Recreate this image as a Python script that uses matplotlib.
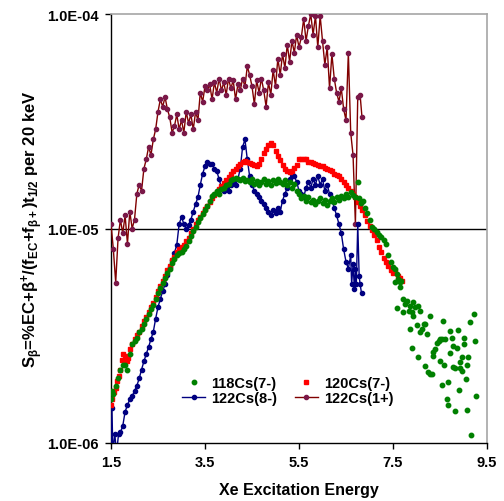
import matplotlib
matplotlib.use("Agg")
import matplotlib.pyplot as plt
from matplotlib.ticker import FixedLocator, FuncFormatter, NullLocator
from matplotlib.lines import Line2D

plt.rcParams['font.family'] = ['Liberation Sans', 'DejaVu Sans']
plt.rcParams['mathtext.fontset'] = 'custom'
plt.rcParams['mathtext.rm'] = 'Liberation Sans:bold'
plt.rcParams['mathtext.bf'] = 'Liberation Sans:bold'
plt.rcParams['mathtext.it'] = 'Liberation Sans:bold'
plt.rcParams['mathtext.default'] = 'bf'

# ---------------- data ----------------
# 122Cs(1+)
e_1p = [1.50, 1.55, 1.60, 1.65, 1.70, 1.75, 1.80, 1.85, 1.90, 1.95, 2.00, 2.05, 2.10, 2.15,
        2.20, 2.25, 2.30, 2.35, 2.40, 2.45, 2.50, 2.55, 2.60, 2.65, 2.70, 2.75, 2.80, 2.85,
        2.90, 2.95, 3.00, 3.05, 3.10, 3.15, 3.20, 3.25, 3.30, 3.35, 3.40, 3.45, 3.50, 3.55,
        3.60, 3.65, 3.70, 3.75, 3.80, 3.85, 3.90, 3.95, 4.00, 4.05, 4.10, 4.15, 4.20, 4.25,
        4.30, 4.35, 4.40, 4.45, 4.50, 4.55, 4.60, 4.65, 4.70, 4.75, 4.80, 4.85, 4.90, 4.95,
        5.00, 5.05, 5.10, 5.15, 5.20, 5.25, 5.30, 5.35, 5.40, 5.45, 5.50, 5.55, 5.60, 5.65,
        5.70, 5.75, 5.80, 5.85, 5.90, 5.95, 6.00, 6.05, 6.10, 6.15, 6.20, 6.25, 6.30, 6.35,
        6.40, 6.45, 6.50, 6.55, 6.60, 6.65, 6.70, 6.75, 6.80, 6.84]
s_1p = [1.05e-5, 8.0e-6, 5.6e-6, 9.0e-6, 1.1e-5, 9.5e-6, 1.15e-5, 8.5e-6, 1.2e-5, 1.0e-5,
        1.1e-5, 1.45e-5, 1.6e-5, 1.5e-5, 1.9e-5, 2.1e-5, 2.4e-5, 2.2e-5, 2.6e-5, 2.9e-5,
        3.5e-5, 4.0e-5, 3.7e-5, 4.1e-5, 3.6e-5, 3.3e-5, 2.8e-5, 3.0e-5, 3.4e-5, 2.9e-5,
        3.2e-5, 2.8e-5, 3.5e-5, 3.1e-5, 3.4e-5, 2.9e-5, 3.5e-5, 3.2e-5, 4.3e-5, 3.9e-5,
        4.6e-5, 4.4e-5, 4.7e-5, 4.0e-5, 4.8e-5, 4.3e-5, 5.0e-5, 4.4e-5, 4.8e-5, 4.2e-5,
        5.0e-5, 4.5e-5, 4.9e-5, 4.0e-5, 4.7e-5, 4.4e-5, 5.0e-5, 4.6e-5, 5.7e-5, 5.2e-5,
        4.6e-5, 3.8e-5, 4.9e-5, 4.3e-5, 5.0e-5, 4.4e-5, 3.7e-5, 4.8e-5, 4.2e-5, 5.5e-5,
        4.6e-5, 6.2e-5, 5.2e-5, 6.5e-5, 5.6e-5, 7.2e-5, 6.0e-5, 7.5e-5, 6.6e-5, 8.0e-5,
        7.0e-5, 7.8e-5, 9.5e-5, 7.5e-5, 8.8e-5, 1.0e-4, 8.0e-5, 9.8e-5, 7.0e-5, 9.8e-5,
        7.5e-5, 5.8e-5, 7.0e-5, 4.5e-5, 6.5e-5, 5.0e-5, 4.3e-5, 3.9e-5, 4.5e-5, 3.6e-5,
        3.2e-5, 6.6e-5, 2.8e-5, 2.2e-5, 1.05e-5, 4.1e-5, 4.2e-5, 3.3e-5]

# 122Cs(8-)
e_8m = [1.50, 1.52, 1.54, 1.58, 1.62, 1.66, 1.70, 1.75, 1.80, 1.85, 1.90, 1.95, 2.00, 2.05,
        2.10, 2.15, 2.20, 2.25, 2.30, 2.35, 2.40, 2.45, 2.50, 2.55, 2.60, 2.65, 2.70, 2.75,
        2.80, 2.85, 2.90, 2.95, 3.00, 3.05, 3.10, 3.15, 3.20, 3.25, 3.30, 3.35, 3.40, 3.45,
        3.50, 3.55, 3.60, 3.65, 3.70, 3.75, 3.80, 3.85, 3.90, 3.95, 4.00, 4.05, 4.10, 4.15,
        4.20, 4.25, 4.30, 4.35, 4.40, 4.45, 4.50, 4.55, 4.60, 4.65, 4.70, 4.75, 4.80, 4.85,
        4.90, 4.95, 5.00, 5.05, 5.10, 5.15, 5.20, 5.25, 5.30, 5.35, 5.40, 5.45, 5.50, 5.55,
        5.60, 5.65, 5.70, 5.75, 5.80, 5.85, 5.90, 5.95, 6.00, 6.05, 6.10, 6.15, 6.20, 6.25,
        6.30, 6.35, 6.40, 6.45, 6.50, 6.55, 6.60, 6.62, 6.65, 6.68, 6.70, 6.72, 6.75, 6.78,
        6.80, 6.83]
s_8m = [9.0e-7, 1.45e-6, 9.0e-7, 1.1e-6, 9.0e-7, 1.1e-6, 1.12e-6, 1.2e-6, 1.4e-6, 1.5e-6,
        1.6e-6, 1.65e-6, 1.75e-6, 1.85e-6, 2.0e-6, 2.2e-6, 2.4e-6, 2.6e-6, 2.8e-6, 3.05e-6,
        3.3e-6, 3.8e-6, 4.3e-6, 4.7e-6, 5.1e-6, 5.5e-6, 6.1e-6, 6.6e-6, 7.1e-6, 7.7e-6,
        8.4e-6, 1.05e-5, 1.13e-5, 1.05e-5, 1.0e-5, 1.04e-5, 1.1e-5, 1.2e-5, 1.3e-5, 1.4e-5,
        1.6e-5, 1.8e-5, 1.95e-5, 2.05e-5, 2.0e-5, 2.0e-5, 1.9e-5, 1.85e-5, 1.7e-5, 1.55e-5,
        1.5e-5, 1.55e-5, 1.5e-5, 1.6e-5, 1.65e-5, 1.6e-5, 1.7e-5, 1.9e-5, 2.4e-5, 2.6e-5,
        2.1e-5, 1.75e-5, 1.6e-5, 1.5e-5, 1.45e-5, 1.4e-5, 1.35e-5, 1.3e-5, 1.25e-5, 1.2e-5,
        1.15e-5, 1.22e-5, 1.18e-5, 1.25e-5, 1.2e-5, 1.35e-5, 1.45e-5, 1.55e-5, 1.7e-5, 1.8e-5,
        1.75e-5, 1.65e-5, 1.5e-5, 1.45e-5, 1.4e-5, 1.55e-5, 1.65e-5, 1.55e-5, 1.7e-5, 1.6e-5,
        1.75e-5, 1.6e-5, 1.7e-5, 1.5e-5, 1.6e-5, 1.45e-5, 1.35e-5, 1.25e-5, 1.15e-5, 1.05e-5,
        9.5e-6, 8.0e-6, 7.0e-6, 6.5e-6, 7.5e-6, 5.5e-6, 6.8e-6, 5.2e-6, 6.5e-6, 5.5e-6,
        1.05e-5, 6.0e-6, 5.5e-6, 5.0e-6]

# 120Cs(7-)
e_120 = [1.50, 1.53, 1.56, 1.60, 1.63, 1.66, 1.70, 1.73, 1.76, 1.80, 1.83, 1.86, 1.90, 1.95,
         2.00, 2.05, 2.10, 2.15, 2.20, 2.25, 2.30, 2.35, 2.40, 2.45, 2.50, 2.55, 2.60, 2.65,
         2.70, 2.75, 2.80, 2.85, 2.90, 2.95, 3.00, 3.05, 3.10, 3.15, 3.20, 3.25, 3.30, 3.35,
         3.40, 3.45, 3.50, 3.55, 3.60, 3.65, 3.70, 3.75, 3.80, 3.85, 3.90, 3.95, 4.00, 4.05,
         4.10, 4.15, 4.20, 4.25, 4.30, 4.35, 4.40, 4.45, 4.50, 4.55, 4.60, 4.65, 4.70, 4.75,
         4.80, 4.85, 4.90, 4.95, 5.00, 5.05, 5.10, 5.15, 5.20, 5.25, 5.30, 5.35, 5.40, 5.45,
         5.50, 5.55, 5.60, 5.65, 5.70, 5.75, 5.80, 5.85, 5.90, 5.95, 6.00, 6.05, 6.10, 6.15,
         6.20, 6.25, 6.30, 6.35, 6.40, 6.45, 6.50, 6.55, 6.60, 6.65, 6.70, 6.75, 6.80, 6.85,
         6.90, 6.95, 7.00, 7.05, 7.10, 7.15, 7.20, 7.25, 7.30, 7.35, 7.40, 7.45, 7.50, 7.55,
         7.60, 7.65, 7.70]
s_120 = [1.5e-6, 1.6e-6, 1.72e-6, 1.8e-6, 1.95e-6, 2.05e-6, 2.2e-6, 2.45e-6, 2.6e-6, 2.55e-6,
         2.4e-6, 2.5e-6, 2.75e-6, 2.9e-6, 3.05e-6, 3.2e-6, 3.3e-6, 3.5e-6, 3.7e-6, 3.85e-6,
         4.1e-6, 4.3e-6, 4.5e-6, 4.8e-6, 5.1e-6, 5.4e-6, 5.7e-6, 6.0e-6, 6.4e-6, 6.7e-6,
         7.1e-6, 7.4e-6, 7.8e-6, 8.0e-6, 8.2e-6, 8.4e-6, 8.7e-6, 9.0e-6, 9.5e-6, 1.0e-5,
         1.05e-5, 1.1e-5, 1.13e-5, 1.18e-5, 1.23e-5, 1.28e-5, 1.33e-5, 1.38e-5, 1.43e-5, 1.48e-5,
         1.53e-5, 1.58e-5, 1.63e-5, 1.68e-5, 1.73e-5, 1.8e-5, 1.85e-5, 1.9e-5, 1.95e-5, 2.0e-5,
         2.04e-5, 2.06e-5, 2.05e-5, 2.03e-5, 2.0e-5, 1.97e-5, 1.96e-5, 2.0e-5, 2.1e-5, 2.25e-5,
         2.35e-5, 2.45e-5, 2.5e-5, 2.45e-5, 2.3e-5, 2.18e-5, 2.08e-5, 1.98e-5, 1.9e-5, 1.85e-5,
         1.83e-5, 1.86e-5, 1.92e-5, 1.98e-5, 2.1e-5, 2.12e-5, 2.1e-5, 2.1e-5, 2.05e-5, 2.05e-5,
         2.02e-5, 2.0e-5, 1.98e-5, 1.95e-5, 1.95e-5, 1.92e-5, 1.9e-5, 1.88e-5, 1.85e-5, 1.8e-5,
         1.78e-5, 1.75e-5, 1.7e-5, 1.65e-5, 1.6e-5, 1.55e-5, 1.5e-5, 1.45e-5, 1.4e-5, 1.33e-5,
         1.28e-5, 1.22e-5, 1.15e-5, 1.08e-5, 1.03e-5, 9.8e-6, 9.3e-6, 8.8e-6, 8.2e-6, 7.8e-6,
         7.3e-6, 7.0e-6, 6.7e-6, 6.4e-6, 6.2e-6, 6.3e-6, 6.0e-6, 5.9e-6, 5.7e-6]

# 118Cs(7-)
e_118 = [1.50, 1.52, 1.55, 1.60, 1.65, 1.70, 1.75, 1.80, 1.85, 1.90, 1.95, 2.00, 2.05, 2.10,
         2.15, 2.20, 2.25, 2.30, 2.35, 2.40, 2.45, 2.50, 2.55, 2.60, 2.65, 2.70, 2.75, 2.80,
         2.85, 2.90, 2.95, 3.00, 3.05, 3.10, 3.15, 3.20, 3.25, 3.30, 3.35, 3.40, 3.45, 3.50,
         3.55, 3.60, 3.65, 3.70, 3.75, 3.80, 3.85, 3.90, 3.95, 4.00, 4.05, 4.10, 4.15, 4.20,
         4.25, 4.30, 4.35, 4.40, 4.45, 4.50, 4.55, 4.60, 4.65, 4.70, 4.75, 4.80, 4.85, 4.90,
         4.95, 5.00, 5.05, 5.10, 5.15, 5.20, 5.25, 5.30, 5.35, 5.40, 5.45, 5.50, 5.55, 5.60,
         5.65, 5.70, 5.75, 5.80, 5.85, 5.90, 5.95, 6.00, 6.05, 6.10, 6.15, 6.20, 6.25, 6.30,
         6.35, 6.40, 6.45, 6.50, 6.55, 6.60, 6.65, 6.70, 6.75, 6.78, 6.82, 6.86, 6.90, 6.95,
         7.00, 7.05, 7.10, 7.15, 7.20, 7.25, 7.30, 7.35, 7.40, 7.45, 7.50,
         7.54, 7.58, 7.61, 7.65, 7.54, 7.65, 7.68, 7.72, 7.79, 7.76, 7.86, 7.93, 7.97, 7.83,
         7.90, 8.07, 8.04, 7.58, 7.72, 7.93, 8.29, 8.15, 8.18, 8.57, 8.00, 8.11, 8.07, 8.22,
         7.86, 7.90, 8.04, 8.18, 8.25, 8.29, 8.32, 8.36, 8.39, 8.43, 8.47, 8.50, 8.54, 8.61,
         8.36, 8.50, 8.59, 8.71, 8.89, 8.75, 8.77, 8.71, 8.87, 9.00, 9.02, 9.14, 9.22, 9.25,
         8.96, 9.10, 8.93, 9.08, 8.93, 8.82, 8.78, 8.96, 9.05, 8.66, 8.54, 8.91, 8.64, 8.68,
         8.82, 9.07, 9.27, 9.17]
s_118 = [1.6e-6, 1.75e-6, 1.7e-6, 1.85e-6, 2.0e-6, 2.2e-6, 2.3e-6, 2.3e-6, 2.2e-6, 2.6e-6,
         2.9e-6, 3.0e-6, 3.1e-6, 3.3e-6, 3.4e-6, 3.6e-6, 3.8e-6, 4.0e-6, 4.2e-6, 4.4e-6,
         4.7e-6, 5.0e-6, 5.3e-6, 5.6e-6, 5.9e-6, 6.2e-6, 6.5e-6, 6.9e-6, 7.2e-6, 7.5e-6,
         7.7e-6, 7.8e-6, 8.0e-6, 8.3e-6, 8.7e-6, 9.2e-6, 9.7e-6, 1.02e-5, 1.07e-5, 1.12e-5,
         1.17e-5, 1.22e-5, 1.28e-5, 1.35e-5, 1.42e-5, 1.45e-5, 1.5e-5, 1.45e-5, 1.52e-5, 1.55e-5,
         1.6e-5, 1.62e-5, 1.68e-5, 1.7e-5, 1.72e-5, 1.7e-5, 1.68e-5, 1.72e-5, 1.66e-5, 1.68e-5,
         1.65e-5, 1.7e-5, 1.62e-5, 1.66e-5, 1.6e-5, 1.64e-5, 1.7e-5, 1.62e-5, 1.66e-5, 1.6e-5,
         1.68e-5, 1.63e-5, 1.7e-5, 1.65e-5, 1.62e-5, 1.68e-5, 1.6e-5, 1.65e-5, 1.55e-5, 1.62e-5,
         1.5e-5, 1.45e-5, 1.38e-5, 1.42e-5, 1.35e-5, 1.4e-5, 1.33e-5, 1.36e-5, 1.3e-5, 1.34e-5,
         1.38e-5, 1.32e-5, 1.36e-5, 1.29e-5, 1.34e-5, 1.38e-5, 1.33e-5, 1.4e-5, 1.36e-5, 1.42e-5,
         1.38e-5, 1.45e-5, 1.4e-5, 1.48e-5, 1.43e-5, 1.4e-5, 1.65e-5, 1.38e-5, 1.32e-5, 1.35e-5,
         1.25e-5, 1.18e-5, 1.1e-5, 1.02e-5, 1.0e-5, 9.6e-6, 9.3e-6, 9.1e-6, 8.8e-6, 8.5e-6,
         7.5e-6, 7.0e-6, 6.6e-6,
         6.47e-6, 6.14e-6, 5.81e-6, 5.61e-6, 5.61e-6, 5.32e-6, 5.71e-6, 4.69e-6, 4.61e-6, 4.44e-6,
         4.36e-6, 4.53e-6, 4.29e-6, 4.14e-6, 4.09e-6, 4.14e-6, 4.36e-6, 4.24e-6, 4.06e-6, 3.92e-6,
         3.92e-6, 3.59e-6, 3.59e-6, 3.72e-6, 3.55e-6, 3.40e-6, 3.28e-6, 3.22e-6, 3.40e-6, 2.76e-6,
         2.51e-6, 2.28e-6, 2.15e-6, 2.10e-6, 2.10e-6, 2.55e-6, 2.74e-6, 2.94e-6, 3.0e-6, 3.05e-6,
         3.05e-6, 3.05e-6, 2.65e-6, 2.42e-6, 2.31e-6, 3.34e-6, 3.36e-6, 3.08e-6, 2.84e-6, 2.63e-6,
         2.76e-6, 2.89e-6, 3.08e-6, 3.65e-6, 3.99e-6, 3.0e-6, 2.51e-6, 2.51e-6, 2.38e-6, 2.31e-6,
         2.23e-6, 2.24e-6, 2.25e-6, 2.17e-6, 1.99e-6, 1.92e-6, 1.86e-6, 1.77e-6, 1.60e-6, 1.50e-6,
         1.41e-6, 1.43e-6, 1.66e-6, 1.09e-6]

x_ticks = [1.5, 3.5, 5.5, 7.5, 9.5]
y_ticks = [1e-6, 1e-5, 1e-4]

c_118 = '#008000'
c_120 = '#ff0000'
c_8m = '#000080'
c_1p = '#800000'
c_1p_m = '#7a1848'

# ---------------- figure ----------------
fig = plt.figure(figsize=(5.04, 5.02), dpi=100)
ax = fig.add_axes([111/504, 58/502, 376/504, 429/502])

ax.plot(e_1p, s_1p, '-', color=c_1p, lw=1.0, marker='o', ms=3.0,
        mfc=c_1p_m, mec=c_1p_m, zorder=3)
ax.plot(e_8m, s_8m, '-', color=c_8m, lw=1.0, marker='o', ms=3.0,
        mfc=c_8m, mec=c_8m, zorder=4)
ax.plot(e_120, s_120, ls='none', marker='s', ms=3.0, mfc=c_120, mec=c_120, zorder=5)
ax.plot(e_118, s_118, ls='none', marker='o', ms=3.2, mfc=c_118, mec=c_118, zorder=5)

ax.axhline(1e-5, color='black', lw=1.0, zorder=2)

ax.set_yscale('log')
ax.set_xlim(1.5, 9.5)
ax.set_ylim(1e-6, 1e-4)
ax.xaxis.set_major_locator(FixedLocator(x_ticks))
ax.xaxis.set_major_formatter(FuncFormatter(lambda v, p: f"{v:.1f}"))
ax.yaxis.set_major_locator(FixedLocator(y_ticks))
ax.yaxis.set_minor_locator(NullLocator())
ax.yaxis.set_major_formatter(FuncFormatter(lambda v, p: f"{v:.1E}"))

ax.tick_params(axis='both', direction='out', length=4, width=1, colors='black',
               labelsize=10.5)
ax.tick_params(axis='x', pad=5)
ax.tick_params(axis='y', pad=5)
for lab in ax.get_xticklabels() + ax.get_yticklabels():
    lab.set_fontweight('bold')

for side in ['left', 'bottom']:
    ax.spines[side].set_color('black')
    ax.spines[side].set_linewidth(1.0)
for side in ['top', 'right']:
    ax.spines[side].set_color('#a6a6a6')
    ax.spines[side].set_linewidth(1.2)

ax.set_xlabel('Xe Excitation Energy', fontsize=11.5, fontweight='bold', labelpad=9)
ax.set_ylabel(r'S$_{\beta}$=%EC+$\beta^{+}$/(f$_{EC}$+f$_{\beta+}$)t$_{1/2}$ per 20 keV',
              fontsize=12, fontweight='bold', labelpad=1)

handles = [
    Line2D([], [], ls='none', marker='o', ms=3.2, color=c_118),
    Line2D([], [], ls='-', lw=1.0, marker='o', ms=3.0, color=c_8m),
    Line2D([], [], ls='none', marker='s', ms=3.0, color=c_120),
    Line2D([], [], ls='-', lw=1.0, marker='o', ms=3.0, color=c_1p, mfc=c_1p_m, mec=c_1p_m),
]
labels = ['118Cs(7-)', '122Cs(8-)', '120Cs(7-)', '122Cs(1+)']
leg = ax.legend(handles, labels, ncol=2, frameon=False, loc='center',
                bbox_to_anchor=(0.47, 0.122), handlelength=1.6, handletextpad=0.4,
                columnspacing=1.2, labelspacing=0.1,
                prop={'size': 10.5, 'weight': 'bold'})

fig.savefig('out.png', dpi=100)
